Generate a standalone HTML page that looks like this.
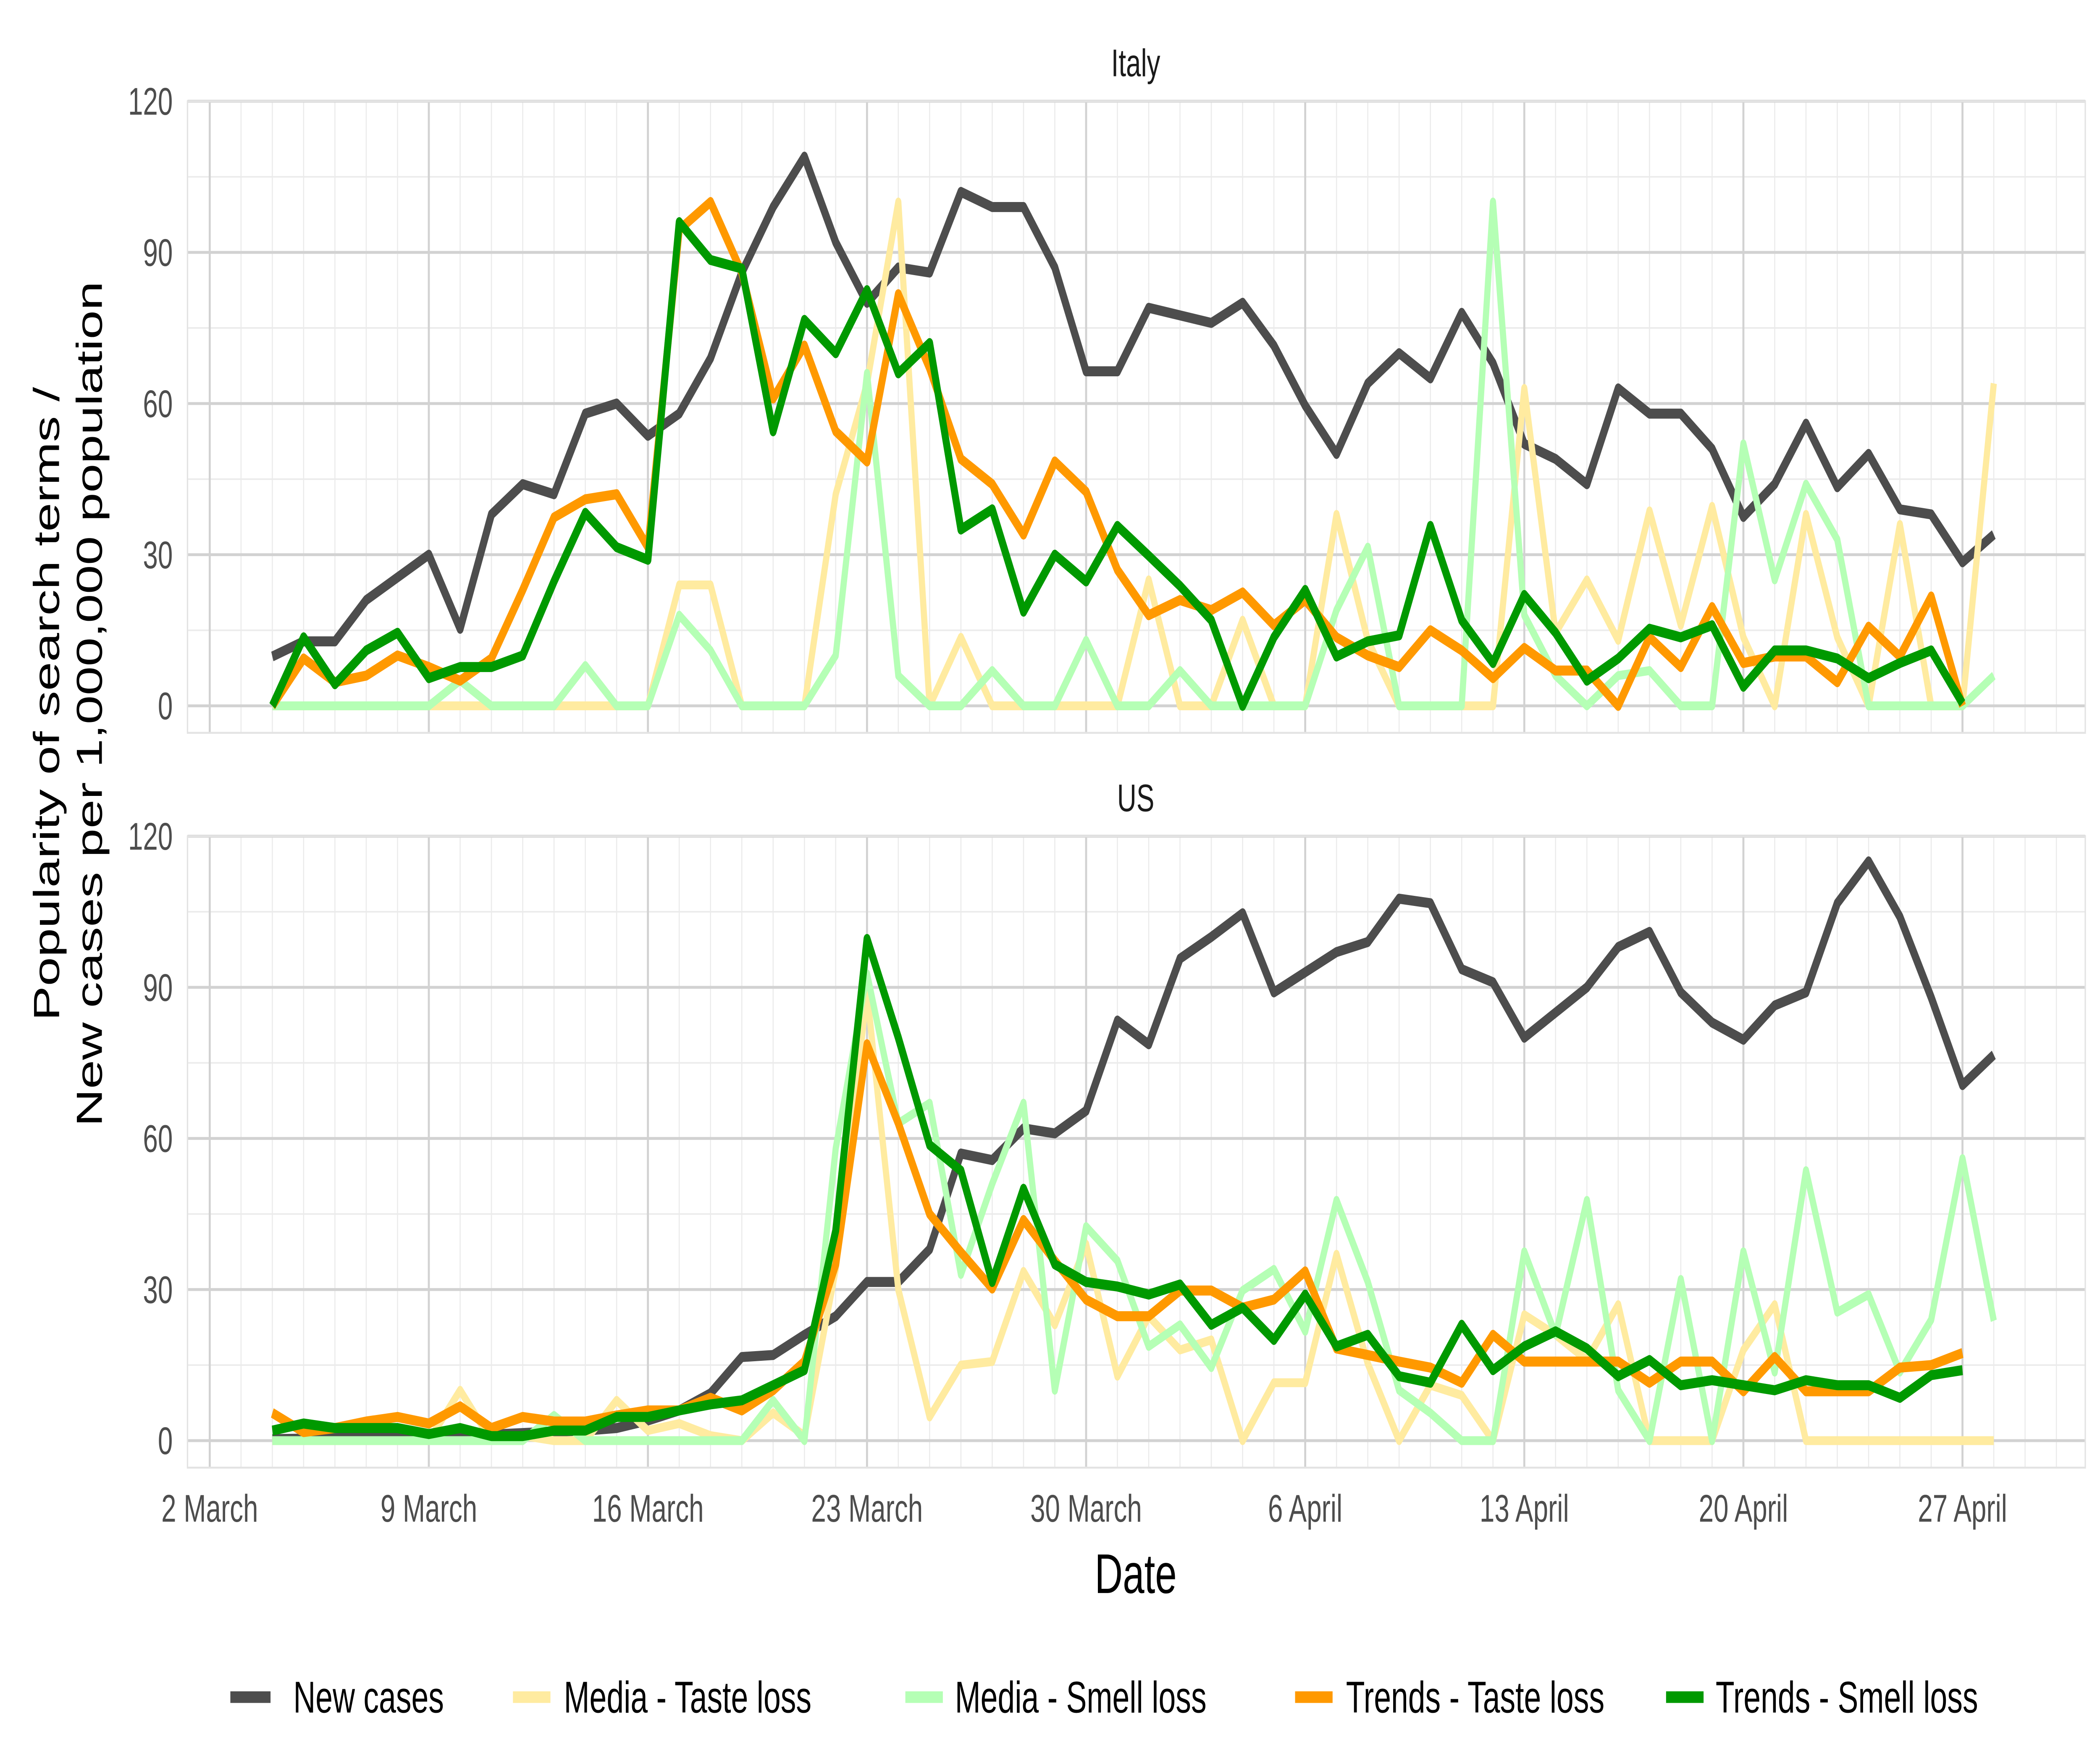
<!DOCTYPE html>
<html><head><meta charset="utf-8"><style>
html,body{margin:0;padding:0;background:#fff;overflow:hidden;width:100%;height:100%;}
svg{display:block;width:100vw;height:100vh;font-family:"Liberation Sans",Arial,sans-serif;}
</style></head><body>
<svg id="chart" viewBox="0 0 1568 914.67" preserveAspectRatio="none" xmlns="http://www.w3.org/2000/svg">
<rect x="0" y="0" width="1568" height="914.67" fill="#fff"/>
<g id="panels"></g>
<text x="848" y="826" font-size="29" text-anchor="middle" fill="#000">Date</text>
<text transform="translate(44,365) rotate(-90)" font-size="27" text-anchor="middle" fill="#000"><tspan x="0" y="0">Popularity of search terms /</tspan><tspan x="0" y="32">New cases per 1,000,000 population</tspan></text>
<g>
 <g><line x1="172" y1="880" x2="202" y2="880" stroke="#4d4d4d" stroke-width="6"/><text x="219" y="888" font-size="23" fill="#000">New cases</text></g>
 <g><line x1="383" y1="880" x2="411" y2="880" stroke="#ffeba0" stroke-width="6"/><text x="421" y="888" font-size="23" fill="#000">Media - Taste loss</text></g>
 <g><line x1="676" y1="880" x2="704" y2="880" stroke="#b5ffb5" stroke-width="6"/><text x="713" y="888" font-size="23" fill="#000">Media - Smell loss</text></g>
 <g><line x1="967" y1="880" x2="995" y2="880" stroke="#ff9900" stroke-width="6"/><text x="1005" y="888" font-size="23" fill="#000">Trends - Taste loss</text></g>
 <g><line x1="1244" y1="880" x2="1272" y2="880" stroke="#009900" stroke-width="6"/><text x="1281" y="888" font-size="23" fill="#000">Trends - Smell loss</text></g>
</g>
</svg>
<script>
// Day offsets from 2 March
const mediaDays = Array.from({length:56},(_, i)=>i+2);
const trendDays = Array.from({length:55},(_, i)=>i+2);
const yTicks = [0,30,60,90,120];
const xTickDays = [0,7,14,21,28,35,42,49,56];
const xTickLabels = ["2 March","9 March","16 March","23 March","30 March","6 April","13 April","20 April","27 April"];

const italyNewCases = [9.8,12.8,12.8,21,25.5,30,15.3,38,44,42,58,60,53.6,58,69,86,99,109,92,80,87,86,102,99,99,87,66.4,66.4,79,77.5,76,80,71.5,59.6,50,64,70,65,78,68,52,49,44,63,58,58,51,37.5,44,56,43.4,50,39,38,28.5,34];
const italyMediaTaste = [0,0,0,0,0,0,0,0,0,0,0,0,0,24,24,0,0,0,42,64,100,0,13.6,0,0,0,0,0,25,0,0,17,0,0,38,13,0,0,0,0,63,14.5,25,13,38.7,16,39.6,13.6,0,38,13.6,0,36,0,0,64];
const italyMediaSmell = [0,0,0,0,0,0,5,0,0,0,8,0,0,18,11,0,0,0,10,66,6,0,0,7,0,0,13,0,0,7,0,0,0,0,19,31.5,0,0,0,100,18,6,0,6,7,0,0,52,25,44,33,0,0,0,0,6];
const italyTrendsTaste = [0,9.4,4.7,6,10,7.7,5,9.4,23,37.4,41,42,31.5,94.5,100,86,61,71.5,54.5,48.5,81.7,67,49,44,34,48.5,42.5,27,18,21,19,22.5,16,21,13.6,10,7.7,15,11,5.5,11.5,7,7,0,13.6,7.7,19.6,8.5,9.8,9.8,4.7,15.7,9.8,21.7,0];
const italyTrendsSmell = [0,13.6,4.3,11,14.5,5.5,7.7,7.7,10,24.7,38.3,31.5,29,96,88.5,86.8,54.5,76.6,70,82.5,66,72,35,39,18.7,30,24.7,35.7,29.8,23.8,17,0,13.6,23,9.8,12.8,14,35.7,17,8.5,22,14.5,5,9.4,15.3,13.6,16,3.8,11,11,9.4,5.5,8.5,11,0.5];

const usNewCases = [0.3,0.4,0.5,0.6,0.7,0.8,1,1.2,1.5,1.8,2,2.5,4,6,9.4,16.6,17,21,24.7,31.5,31.5,38,57,55.7,62,61,65.5,83.4,78.7,95.7,100,104.7,89,93,97,99,107.6,106.7,93.6,91,80,85,90,98,101,89,83,79.6,86.4,89,106.7,115,104,88,70.6,76.6];
const usMediaTaste = [0,0,0,0,0,0,10,0,1,0,0,8,2,3.4,1,0,5.5,1,34,89,30,4.7,15,15.7,33.6,23,39,12.8,24.7,18,20,0,11.5,11.5,37,15.3,0,11,9,0,25,21,16,27,0,0,0,18,27,0,0,0,0,0,0,0];
const usMediaSmell = [0,0,0,0,0,0,0,0,0,5,0,0,0,0,0,0,8,0,58,92.7,63,67,33,51,67,10,42.5,35.7,18.7,23,14.5,29.8,34,21.7,47.7,31.5,10,5.5,0,0,37.5,21,47.7,10,0,32,0,37.5,13.6,53.6,25.5,29,13.6,24,56,23.8];
const usTrendsTaste = [5.5,1.7,2.5,3.8,4.7,3.4,6.8,2.5,4.7,3.8,3.8,5,6,6,8.5,6,10,15.7,35,78.7,63,45,37.4,30.2,43.8,35.7,28,24.7,24.7,29.8,29.8,26.4,28,33.6,18.3,17,15.7,14.5,11.5,21,15.7,15.7,15.7,15.7,11.5,15.7,15.7,9.8,16.6,9.8,9.8,9.8,14.5,15,17.4];
const usTrendsSmell = [2,3.4,2.5,2.5,2.5,1.3,2.5,0.9,0.9,2,2,4.7,4.7,6,7.2,8,11,14,41.7,99.6,80,58.7,53.6,31.5,50,35,31.5,30.6,29,31,23,26.4,20,29,18.7,21,12.8,11.5,23,14,18.7,21.7,18.3,12.8,16,11,12,11,10,12,11,11,8.5,13,14];

const NS = "http://www.w3.org/2000/svg";
const PX0 = 140, PX1 = 1557;
const xScale = d => 156.6 + 23.37 * d;

const panels = [
  {name:"italy", title:"Italy", top:52.5, zero:366, bottom:380, series:[
    ["new-cases", mediaDays, italyNewCases, "#4d4d4d", 5.2],
    ["media-taste", mediaDays, italyMediaTaste, "#ffeba0", 4.6],
    ["media-smell", mediaDays, italyMediaSmell, "#b5ffb5", 4.6],
    ["trends-taste", trendDays, italyTrendsTaste, "#ff9900", 5.2],
    ["trends-smell", trendDays, italyTrendsSmell, "#009900", 5.2]]},
  {name:"us", title:"US", top:433.6, zero:747, bottom:761, series:[
    ["new-cases", mediaDays, usNewCases, "#4d4d4d", 5.2],
    ["media-taste", mediaDays, usMediaTaste, "#ffeba0", 4.6],
    ["media-smell", mediaDays, usMediaSmell, "#b5ffb5", 4.6],
    ["trends-taste", trendDays, usTrendsTaste, "#ff9900", 5.2],
    ["trends-smell", trendDays, usTrendsSmell, "#009900", 5.2]]}
];

function mk(tag, attrs, parent){
  const e = document.createElementNS(NS, tag);
  for (const k in attrs) e.setAttribute(k, attrs[k]);
  parent.appendChild(e);
  return e;
}

const root = document.getElementById("panels");
panels.forEach(p => {
  const yScale = v => p.zero - (p.zero - p.top) * v / 120;
  const g = mk("g", {}, root);
  
  
  for (let v = -15; v <= 135; v += 30) {
    const y = yScale(v);
    if (y < p.top - 1 || y > p.bottom) continue;
    const l = mk("line", {x1:PX0, x2:PX1, y1:y, y2:y, stroke:"#ebebeb", "stroke-width":0.8}, g);
    
    
  }
  for (let d = 0; d <= 60; d++) {
    const x = xScale(d);
    if (x > PX1) continue;
    const l = mk("line", {x1:x, x2:x, y1:p.top, y2:p.bottom, stroke:"#ebebeb", "stroke-width":0.8}, g);
    
    
  }
  yTicks.forEach(v => {
    const y = yScale(v);
    const l = mk("line", {x1:PX0, x2:PX1, y1:y, y2:y, stroke:"#d2d2d2", "stroke-width":1.5}, g);
    
    
    const t = mk("text", {x:129, y:y+7, "font-size":20, "text-anchor":"end", fill:"#4d4d4d"}, g);
    t.textContent = v;
    
    
  });
  xTickDays.forEach(d => {
    const x = xScale(d);
    const l = mk("line", {x1:x, x2:x, y1:p.top, y2:p.bottom, stroke:"#d2d2d2", "stroke-width":1.5}, g);
    
    
  });
  const b = mk("rect", {x:PX0, y:p.top, width:PX1-PX0, height:p.bottom-p.top, fill:"none", stroke:"#e3e3e3", "stroke-width":1}, g);
  
  
  const st = mk("text", {x:848, y:p.top-13, "font-size":20, "text-anchor":"middle", fill:"#1a1a1a"}, g);
  st.textContent = p.title;
  
  
  p.series.forEach(s => {
    const [nm, days, vals, col, w] = s;
    const pts = vals.map((v, i) => xScale(days[i]).toFixed(2) + "," + yScale(v).toFixed(2)).join(" ");
    const pl = mk("polyline", {points:pts, fill:"none", stroke:col, "stroke-width":w, "stroke-linejoin":"round"}, g);
    
    
  });
});
const svg = document.getElementById("chart");
xTickDays.forEach((d, i) => {
  const t = mk("text", {x:xScale(d), y:789, "font-size":20, "text-anchor":"middle", fill:"#4d4d4d"}, svg);
  t.textContent = xTickLabels[i];
  
  
});
</script>
</body></html>
